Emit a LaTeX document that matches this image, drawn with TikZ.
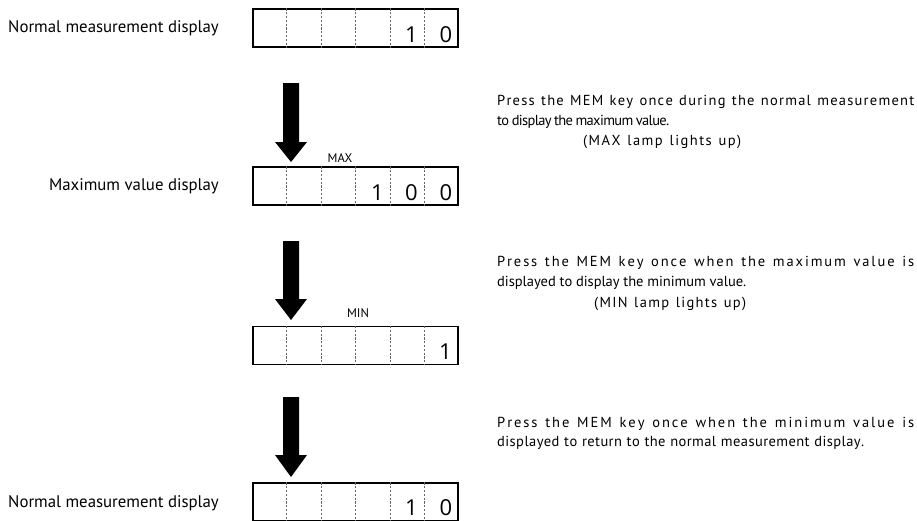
\documentclass[tikz,border=0pt]{standalone}
\usepackage{fontspec}
\setmainfont{PT Sans}
\newfontfamily\digitfont{Open Sans}
\usetikzlibrary{calc}
\def\spglue{\hskip 0pt plus 1fil minus 1fil\relax}
\ExplSyntaxOn
\NewDocumentCommand\spreadline{mm}{
  \tl_set:Nn \l_tmpa_tl {#2}
  \regex_replace_all:nnN { (.) } { \1 \c{spglue} } \l_tmpa_tl
  \makebox[#1][s]{\l_tmpa_tl\unskip}
}
\ExplSyntaxOff
\begin{document}
\begin{tikzpicture}[x=1pt,y=-1pt]
\useasboundingbox (0,0) rectangle (917,520);
\tikzset{
 lbl/.style={anchor=east,font=\fontsize{16.8}{19}\selectfont,inner sep=0pt},
 txt/.style={anchor=base west,font=\fontsize{14.5}{17}\selectfont,inner sep=0pt},
 dig/.style={anchor=base east,font=\digitfont\fontsize{22}{24}\selectfont,inner sep=0pt},
 lamp/.style={font=\fontsize{12.5}{14}\selectfont,inner sep=0pt},
 dispbox/.style={draw,line width=1.1pt,minimum width=205pt,minimum height=38pt,inner sep=0pt},
 sepline/.style={draw=black!60,dash pattern=on 2.2pt off 1.6pt,line width=0.7pt},
 bigarrow/.style={fill=black}
}
% display boxes
\node[dispbox] (b1) at (355.5,28) {};
\node[dispbox] (b2) at (355.5,186) {};
\node[dispbox] (b3) at (355.5,345.5) {};
\node[dispbox] (b4) at (355.5,502) {};
\foreach \b in {b1,b2,b3,b4}{
  \foreach \i in {1,...,5}{
    \draw[sepline] ($(\b.north west)!\i/6!(\b.north east)$) -- ($(\b.south west)!\i/6!(\b.south east)$);
  }
}
% digits
\node[dig] (d11) at (418,42) {1};
\node[dig] (d12) at (452.5,42) {0};
\node[dig] (d21) at (384,200) {1};
\node[dig] (d22) at (418,200) {0};
\node[dig] (d23) at (452.5,200) {0};
\node[dig] (d31) at (452,359) {1};
\node[dig] (d41) at (418,515) {1};
\node[dig] (d42) at (452.5,515) {0};
% left labels
\node[lbl] (l1) at (219,28) {Normal measurement display};
\node[lbl] (l2) at (219,186) {Maximum value display};
\node[lbl] (l4) at (219,503) {Normal measurement display};
% lamp labels
\node[lamp] (max) at (340,158) {MAX};
\node[lamp] (min) at (358,313) {MIN};
% arrows
\fill[bigarrow] (283,83) -- (299,83) -- (299,142) -- (307,142) -- (291,162) -- (275,142) -- (283,142) -- cycle;
\fill[bigarrow] (283,241) -- (299,241) -- (299,299) -- (307,299) -- (291,320) -- (275,299) -- (283,299) -- cycle;
\fill[bigarrow] (283,397) -- (299,397) -- (299,455) -- (307,455) -- (291,477) -- (275,455) -- (283,455) -- cycle;
% explanations
\node[txt] (t1a) at (497,105) {\spreadline{417pt}{Press the MEM key once during the normal measurement}};
\node[txt] (t1b) at (497,125) {\spreadline{172pt}{to display the maximum value.}};
\node[txt] (t1c) at (583,145) {\spreadline{158pt}{(MAX lamp lights up)}};
\node[txt] (t2a) at (497,266) {\spreadline{417pt}{Press the MEM key once when the maximum value is}};
\node[txt] (t2b) at (497,286) {\spreadline{249pt}{displayed to display the minimum value.}};
\node[txt] (t2c) at (594,307) {\spreadline{152pt}{(MIN lamp lights up)}};
\node[txt] (t3a) at (497,427) {\spreadline{417pt}{Press the MEM key once when the minimum value is}};
\node[txt] (t3b) at (497,446) {\spreadline{367pt}{displayed to return to the normal measurement display.}};
\end{tikzpicture}
\end{document}
